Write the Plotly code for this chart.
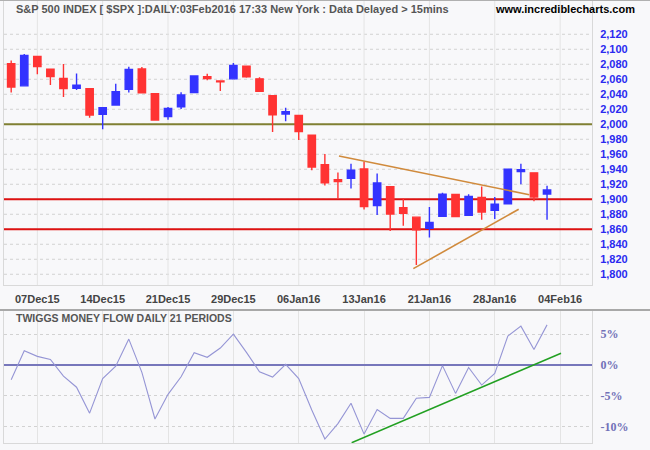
import plotly.graph_objects as go

# ---------------- data ----------------
dates = [
    "2015-12-03", "2015-12-04", "2015-12-07", "2015-12-08", "2015-12-09", "2015-12-10", "2015-12-11",
    "2015-12-14", "2015-12-15", "2015-12-16", "2015-12-17", "2015-12-18", "2015-12-21", "2015-12-22",
    "2015-12-23", "2015-12-24", "2015-12-28", "2015-12-29", "2015-12-30", "2015-12-31", "2016-01-04",
    "2016-01-05", "2016-01-06", "2016-01-07", "2016-01-08", "2016-01-11", "2016-01-12", "2016-01-13",
    "2016-01-14", "2016-01-15", "2016-01-19", "2016-01-20", "2016-01-21", "2016-01-22", "2016-01-25",
    "2016-01-26", "2016-01-27", "2016-01-28", "2016-01-29", "2016-02-01", "2016-02-02", "2016-02-03",
]
opens = [2080.71, 2051.24, 2090.42, 2073.39, 2061.17, 2047.93, 2047.27, 2013.37, 2025.55, 2046.50,
         2073.76, 2040.81, 2010.27, 2023.15, 2042.20, 2063.52, 2057.77, 2060.54, 2077.34, 2060.59,
         2038.20, 2013.78, 2011.71, 1985.32, 1945.97, 1926.12, 1927.83, 1940.34, 1891.68, 1916.68,
         1888.66, 1876.18, 1861.46, 1877.40, 1906.28, 1878.79, 1902.52, 1885.22, 1894.00, 1936.94,
         1935.26, 1907.07]
highs = [2085.00, 2093.84, 2090.42, 2073.85, 2080.33, 2067.65, 2047.27, 2022.92, 2053.87, 2076.72,
         2076.37, 2040.81, 2022.90, 2042.74, 2064.73, 2067.36, 2057.77, 2081.56, 2077.34, 2062.54,
         2038.20, 2021.94, 2011.71, 1985.32, 1960.40, 1935.65, 1947.38, 1950.33, 1934.47, 1916.68,
         1901.44, 1876.18, 1889.85, 1908.85, 1906.28, 1906.73, 1916.99, 1902.96, 1940.24, 1947.20,
         1935.26, 1918.01]
lows = [2042.35, 2051.24, 2066.78, 2052.32, 2036.53, 2045.67, 2008.80, 1993.26, 2025.55, 2042.43,
        2041.66, 2005.33, 2005.93, 2020.49, 2042.20, 2058.73, 2044.20, 2060.54, 2061.97, 2043.62,
        1989.68, 2004.17, 1979.05, 1938.83, 1918.46, 1901.10, 1914.35, 1886.41, 1878.93, 1857.83,
        1864.60, 1812.29, 1848.98, 1877.40, 1875.97, 1878.79, 1872.70, 1873.65, 1894.00, 1920.03,
        1897.29, 1872.65]
closes = [2049.62, 2091.69, 2077.07, 2063.59, 2047.62, 2052.23, 2012.37, 2021.94, 2043.41, 2073.07,
          2041.89, 2005.55, 2021.15, 2038.97, 2064.29, 2060.99, 2056.50, 2078.36, 2063.36, 2043.94,
          2012.66, 2016.71, 1990.26, 1943.09, 1922.03, 1923.67, 1938.68, 1890.28, 1921.84, 1880.33,
          1881.33, 1859.33, 1868.99, 1906.90, 1877.08, 1903.63, 1882.95, 1893.36, 1940.24, 1939.38,
          1903.03, 1912.53]

# Twiggs Money Flow (%)
tmf = [-2.4, 2.3, 1.4, 0.9, -1.8, -3.6, -7.8, -2.2, -0.2, 4.2, -1.2, -8.75, -4.75, -1.9, 2.0,
       1.25, 2.75, 5.0, 2.05, -1.1, -1.95, 0.1, -2.2, -7.3, -12.0, -9.5, -6.2, -11.2, -7.2, -8.65,
       -8.65, -5.4, -5.25, -0.1, -4.6, -0.4, -3.25, -1.35, 4.7, 6.3, 2.5, 6.5]

# axis: trading days (data days plus the next session for the last label)
axis_days = dates + ["2016-02-04"]
tick_dates = ["2015-12-07", "2015-12-14", "2015-12-21", "2015-12-29", "2016-01-06",
              "2016-01-13", "2016-01-21", "2016-01-28", "2016-02-04"]
tick_labels = ["07Dec15", "14Dec15", "21Dec15", "29Dec15", "06Jan16",
               "13Jan16", "21Jan16", "28Jan16", "04Feb16"]
price_ticks = [1800, 1820, 1840, 1860, 1880, 1900, 1920, 1940, 1960, 1980,
               2000, 2020, 2040, 2060, 2080, 2100, 2120]
tmf_ticks = [-10, -5, 0, 5]
tmf_tick_labels = ["-10%", "-5%", "0%", "5%"]

# horizontal support/resistance levels
olive_level = [2000]
red_levels = [1900, 1860]

# trend lines: (trading-day position, value)
upper_trend_x = [25.08, 39.64]
upper_trend_y = [1957.7, 1906.1]
lower_trend_x = [30.77, 38.83]
lower_trend_y = [1807.5, 1886.7]
tmf_trend_x = [26.05, 42.07]
tmf_trend_y = [-12.6, 1.9]

# ---------------- figure ----------------
W, H = 650, 450
pos = [axis_days.index(d) for d in dates]
tick_pos = [axis_days.index(d) for d in tick_dates]

BLUE = "#3333ff"
RED = "#ff3333"
GRID_V = "#e4e4e4"
GRID_H = "#d2d2d2"

fig = go.Figure()

# upper-panel grid drawn as shapes beneath the level lines
for p in price_ticks:
    fig.add_shape(type="line", xref="x domain", yref="y", x0=0, x1=1, y0=p, y1=p,
                  line=dict(color=GRID_H, width=1, dash="dot"), layer="below")
for t in tick_pos:
    fig.add_shape(type="line", xref="x", yref="y domain", x0=t, x1=t, y0=0, y1=1,
                  line=dict(color=GRID_V, width=1), layer="below")
for lvl in olive_level:
    fig.add_shape(type="line", xref="x domain", yref="y", x0=0, x1=1, y0=lvl, y1=lvl,
                  line=dict(color="#808033", width=2), layer="below")
for lvl in red_levels:
    fig.add_shape(type="line", xref="x domain", yref="y", x0=0, x1=1, y0=lvl, y1=lvl,
                  line=dict(color="#dd1111", width=2), layer="below")

fig.add_trace(go.Candlestick(
    x=pos, open=opens, high=highs, low=lows, close=closes,
    increasing=dict(line=dict(color=BLUE, width=1.4), fillcolor=BLUE),
    decreasing=dict(line=dict(color=RED, width=1.4), fillcolor=RED),
    whiskerwidth=0, showlegend=False, hoverinfo="skip",
    xaxis="x", yaxis="y",
))

for tx, ty in ((upper_trend_x, upper_trend_y), (lower_trend_x, lower_trend_y)):
    fig.add_trace(go.Scatter(x=tx, y=ty, mode="lines", line=dict(color="#d08a3c", width=1.6),
                             showlegend=False, hoverinfo="skip", xaxis="x", yaxis="y"))

fig.add_trace(go.Scatter(x=pos, y=tmf, mode="lines", line=dict(color="#9595d5", width=1.1),
                         showlegend=False, hoverinfo="skip", xaxis="x2", yaxis="y2"))
fig.add_trace(go.Scatter(x=tmf_trend_x, y=tmf_trend_y, mode="lines",
                         line=dict(color="#22a022", width=1.5),
                         showlegend=False, hoverinfo="skip", xaxis="x2", yaxis="y2"))

x0_px, x1_px = 4, 592
xdom = [x0_px / W, x1_px / W]
xrange = [-0.55, 44.44]

axis_line = "#d9d9d9"
fig.update_layout(
    width=W, height=H,
    margin=dict(l=0, r=0, t=0, b=0),
    paper_bgcolor="#f8f8fa", plot_bgcolor="#f8f8fa",
    boxgap=0.2,
    showlegend=False,
    xaxis=dict(domain=xdom, range=xrange, tickvals=tick_pos, ticktext=tick_labels,
               showgrid=False, zeroline=False,
               showline=True, mirror=True, linecolor=axis_line, linewidth=1,
               ticks="", ticklabelstandoff=4,
               tickfont=dict(family="Liberation Sans, Arial, sans-serif", size=11, color="#444444",
                             weight="bold"),
               rangeslider=dict(visible=False), anchor="y"),
    yaxis=dict(domain=[(H - 285) / H, 1.0], range=[1785.7, 2165.7], side="right",
               tickvals=price_ticks, tickformat=",d",
               showgrid=False, zeroline=False,
               showline=True, mirror=True, linecolor=axis_line, linewidth=1,
               ticks="", ticklabelstandoff=5,
               tickfont=dict(family="Liberation Sans, Arial, sans-serif", size=11, color="#2a2af0",
                             weight="bold"),
               anchor="x"),
    xaxis2=dict(domain=xdom, range=xrange, tickvals=tick_pos, showticklabels=False,
                showgrid=True, gridcolor=GRID_V, gridwidth=1, zeroline=False,
                showline=True, mirror=True, linecolor=axis_line, linewidth=1,
                ticks="", anchor="y2", matches="x"),
    yaxis2=dict(domain=[(H - 443) / H, (H - 311) / H], range=[-12.64, 8.75], side="right",
                tickvals=tmf_ticks, ticktext=tmf_tick_labels,
                showgrid=True, gridcolor=GRID_H, griddash="dot", gridwidth=1,
                zeroline=True, zerolinecolor="#7777bb", zerolinewidth=1.5,
                showline=True, mirror=True, linecolor=axis_line, linewidth=1,
                ticks="", ticklabelstandoff=5,
                tickfont=dict(family="Liberation Serif, Times New Roman, serif", size=12,
                              color="#7272b8", weight="bold"),
                anchor="x2"),
)

# separators / borders
fig.add_shape(type="line", xref="paper", yref="paper", x0=0, x1=1, y0=1 - 310 / H, y1=1 - 310 / H,
              line=dict(color="#a8a8a8", width=2))
fig.add_shape(type="line", xref="paper", yref="paper", x0=0, x1=1, y0=1 - 0.5 / H, y1=1 - 0.5 / H,
              line=dict(color="#b0b0b0", width=1))

fig.add_annotation(xref="paper", yref="paper", x=14 / W, y=1 - 9 / H, xanchor="left", yanchor="middle",
                   text="<b>S&P 500 INDEX [ $SPX ]:DAILY:03Feb2016 17:33 New York : Data Delayed > 15mins</b>",
                   showarrow=False,
                   font=dict(family="Liberation Sans, Arial, sans-serif", size=11, color="#555555"))
fig.add_annotation(xref="paper", yref="paper", x=637 / W, y=1 - 9 / H, xanchor="right", yanchor="middle",
                   text="<b>www.incrediblecharts.com</b>", showarrow=False,
                   font=dict(family="Liberation Sans, Arial, sans-serif", size=11, color="#000000"))
fig.add_annotation(xref="paper", yref="paper", x=14 / W, y=1 - 318 / H, xanchor="left", yanchor="middle",
                   text="<b>TWIGGS MONEY FLOW DAILY 21 PERIODS</b>", showarrow=False,
                   font=dict(family="Liberation Sans, Arial, sans-serif", size=10.5, color="#555555"))

fig.write_html("out.html")
